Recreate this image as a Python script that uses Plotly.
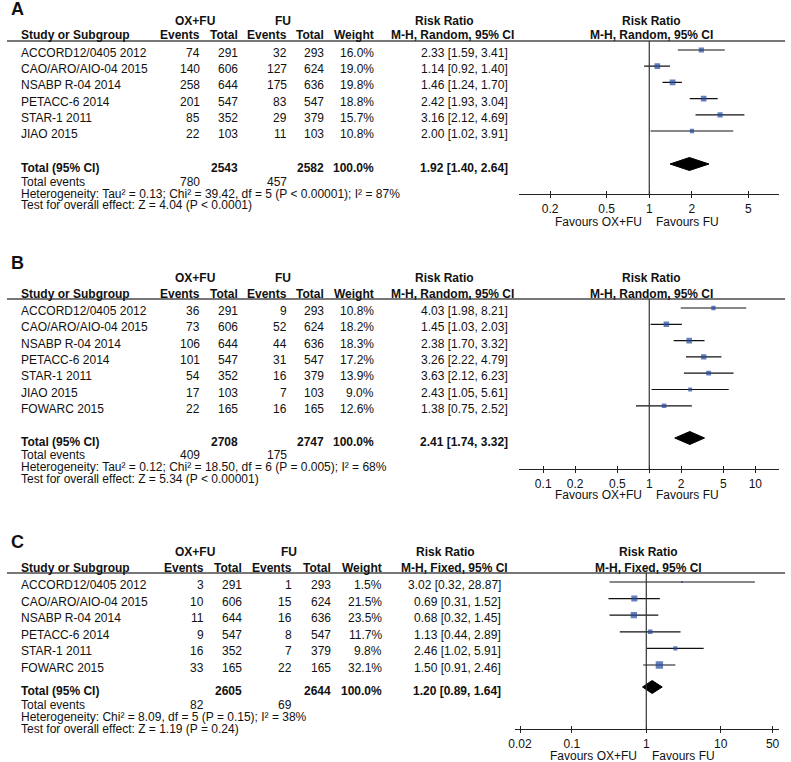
import math

import plotly.graph_objects as go

W, H = 791, 762
FONT = "Liberation Sans, Arial, Helvetica, sans-serif"
INK = "#111111"
RULE = "#4a4a4a"
BLUE = "#24489c"

# ---- Panel A (M-H, Random) ----
studies_a = ["ACCORD12/0405 2012", "CAO/ARO/AIO-04 2015", "NSABP R-04 2014",
             "PETACC-6 2014", "STAR-1 2011", "JIAO 2015"]
ox_events_a = [74, 140, 258, 201, 85, 22]
ox_total_a = [291, 606, 644, 547, 352, 103]
fu_events_a = [32, 127, 175, 83, 29, 11]
fu_total_a = [293, 624, 636, 547, 379, 103]
weight_a = [16.0, 19.0, 19.8, 18.8, 15.7, 10.8]
rr_a = [2.33, 1.14, 1.46, 2.42, 3.16, 2.00]
lo_a = [1.59, 0.92, 1.24, 1.93, 2.12, 1.02]
hi_a = [3.41, 1.40, 1.70, 3.04, 4.69, 3.91]
n_total_a = [2543, 2582]
events_total_a = [780, 457]
pooled_a = [1.92, 1.40, 2.64]
het_a = "Heterogeneity: Tau² = 0.13; Chi² = 39.42, df = 5 (P < 0.00001); I² = 87%"
test_a = "Test for overall effect: Z = 4.04 (P < 0.0001)"
ticks_a = [0.2, 0.5, 1, 2, 5]

# ---- Panel B (M-H, Random) ----
studies_b = ["ACCORD12/0405 2012", "CAO/ARO/AIO-04 2015", "NSABP R-04 2014",
             "PETACC-6 2014", "STAR-1 2011", "JIAO 2015", "FOWARC 2015"]
ox_events_b = [36, 73, 106, 101, 54, 17, 22]
ox_total_b = [291, 606, 644, 547, 352, 103, 165]
fu_events_b = [9, 52, 44, 31, 16, 7, 16]
fu_total_b = [293, 624, 636, 547, 379, 103, 165]
weight_b = [10.8, 18.2, 18.3, 17.2, 13.9, 9.0, 12.6]
rr_b = [4.03, 1.45, 2.38, 3.26, 3.63, 2.43, 1.38]
lo_b = [1.98, 1.03, 1.70, 2.22, 2.12, 1.05, 0.75]
hi_b = [8.21, 2.03, 3.32, 4.79, 6.23, 5.61, 2.52]
n_total_b = [2708, 2747]
events_total_b = [409, 175]
pooled_b = [2.41, 1.74, 3.32]
het_b = "Heterogeneity: Tau² = 0.12; Chi² = 18.50, df = 6 (P = 0.005); I² = 68%"
test_b = "Test for overall effect: Z = 5.34 (P < 0.00001)"
ticks_b = [0.1, 0.2, 0.5, 1, 2, 5, 10]

# ---- Panel C (M-H, Fixed) ----
studies_c = ["ACCORD12/0405 2012", "CAO/ARO/AIO-04 2015", "NSABP R-04 2014",
             "PETACC-6 2014", "STAR-1 2011", "FOWARC 2015"]
ox_events_c = [3, 10, 11, 9, 16, 33]
ox_total_c = [291, 606, 644, 547, 352, 165]
fu_events_c = [1, 15, 16, 8, 7, 22]
fu_total_c = [293, 624, 636, 547, 379, 165]
weight_c = [1.5, 21.5, 23.5, 11.7, 9.8, 32.1]
rr_c = [3.02, 0.69, 0.68, 1.13, 2.46, 1.50]
lo_c = [0.32, 0.31, 0.32, 0.44, 1.02, 0.91]
hi_c = [28.87, 1.52, 1.45, 2.89, 5.91, 2.46]
n_total_c = [2605, 2644]
events_total_c = [82, 69]
pooled_c = [1.20, 0.89, 1.64]
het_c = "Heterogeneity: Chi² = 8.09, df = 5 (P = 0.15); I² = 38%"
test_c = "Test for overall effect: Z = 1.19 (P = 0.24)"
ticks_c = [0.02, 0.1, 1, 10, 50]

PANELS = [
    dict(letter="A", method="Random", studies=studies_a, oe=ox_events_a, ot=ox_total_a,
         fe=fu_events_a, ft=fu_total_a, w=weight_a, rr=rr_a, lo=lo_a, hi=hi_a,
         nt=n_total_a, et=events_total_a, pooled=pooled_a, het=het_a, test=test_a, ticks=ticks_a),
    dict(letter="B", method="Random", studies=studies_b, oe=ox_events_b, ot=ox_total_b,
         fe=fu_events_b, ft=fu_total_b, w=weight_b, rr=rr_b, lo=lo_b, hi=hi_b,
         nt=n_total_b, et=events_total_b, pooled=pooled_b, het=het_b, test=test_b, ticks=ticks_b),
    dict(letter="C", method="Fixed", studies=studies_c, oe=ox_events_c, ot=ox_total_c,
         fe=fu_events_c, ft=fu_total_c, w=weight_c, rr=rr_c, lo=lo_c, hi=hi_c,
         nt=n_total_c, et=events_total_c, pooled=pooled_c, het=het_c, test=test_c, ticks=ticks_c),
]

# pixel geometry of each panel
GEOM = [
    dict(letter_y=9, group_y=21, head_y=35, rule_y=41, row0=53, pitch=16.2, total_y=168,
         events_y=182, het_y=193.5, test_y=205, axis_y=194, fav_y=222,
         cols=[197, 235, 285, 322, 372], rr_x=507, grp_x=[190, 278], rr_head=[441, 449],
         plot=[517, 779], one_x=648, decade=143, plot_head=650, fav_split=[643, 653]),
    dict(letter_y=263, group_y=278, head_y=294, rule_y=299, row0=311, pitch=16.3, total_y=442,
         events_y=455, het_y=467, test_y=479, axis_y=469, fav_y=495,
         cols=[197, 235, 285, 322, 372], rr_x=507, grp_x=[190, 278], rr_head=[441, 449],
         plot=[517, 779], one_x=648, decade=107, plot_head=650, fav_split=[643, 653]),
    dict(letter_y=542, group_y=552, head_y=568, rule_y=573, row0=585, pitch=16.6, total_y=691,
         events_y=705, het_y=717, test_y=729, axis_y=729, fav_y=756,
         cols=[201, 239, 290, 329, 380], rr_x=500, grp_x=[190, 285], rr_head=[442, 451],
         plot=[513, 779], one_x=645, decade=75, plot_head=647, fav_split=[638, 649]),
]

annotations = []
shapes = []


def px(x):
    return x / W


def py(y):
    return 1 - y / H


def text(x, y, s, anchor="left", bold=False, size=12):
    annotations.append(dict(
        x=px(x), y=py(y), xref="paper", yref="paper", showarrow=False,
        text=f"<b>{s}</b>" if bold else s, xanchor=anchor, yanchor="middle",
        font=dict(size=size, color=INK, family=FONT),
    ))


def rr_text(v, lo, hi):
    return f"{v:.2f} [{lo:.2f}, {hi:.2f}]"


fig = go.Figure()

for k, (p, g) in enumerate(zip(PANELS, GEOM)):
    n = k + 1
    xa = "x" if n == 1 else f"x{n}"
    ya = "y" if n == 1 else f"y{n}"
    over = f"x{n + 3}"
    cols = g["cols"]
    method = f"M-H, {p['method']}, 95% CI"

    # headers
    text(2, g["letter_y"], p["letter"], bold=True, size=18)
    text(g["grp_x"][0], g["group_y"], "OX+FU", anchor="center", bold=True)
    text(g["grp_x"][1], g["group_y"], "FU", anchor="center", bold=True)
    text(12, g["head_y"], "Study or Subgroup", bold=True)
    for cx, lab in zip(cols, ["Events", "Total", "Events", "Total", "Weight"]):
        text(cx, g["head_y"], lab, anchor="right", bold=True)
    text(g["rr_head"][0], g["group_y"], "Risk Ratio", anchor="center", bold=True)
    text(g["rr_head"][1], g["head_y"], method, anchor="center", bold=True)
    text(g["plot_head"], g["group_y"], "Risk Ratio", anchor="center", bold=True)
    text(g["plot_head"], g["head_y"], method, anchor="center", bold=True)
    shapes.append(dict(type="line", xref="paper", yref="paper", x0=0, x1=px(785),
                       y0=py(g["rule_y"]), y1=py(g["rule_y"]), line=dict(color=RULE, width=1.3)))

    # study rows
    row_y = [g["row0"] + g["pitch"] * i for i in range(len(p["studies"]))]
    for i, name in enumerate(p["studies"]):
        y = row_y[i]
        text(12, y, name)
        vals = [p["oe"][i], p["ot"][i], p["fe"][i], p["ft"][i], f"{p['w'][i]:.1f}%"]
        for cx, v in zip(cols, vals):
            text(cx, y, str(v), anchor="right")
        text(g["rr_x"], y, rr_text(p["rr"][i], p["lo"][i], p["hi"][i]), anchor="right")

    # totals
    text(12, g["total_y"], "Total (95% CI)", bold=True)
    text(cols[1], g["total_y"], str(p["nt"][0]), anchor="right", bold=True)
    text(cols[3], g["total_y"], str(p["nt"][1]), anchor="right", bold=True)
    text(cols[4], g["total_y"], "100.0%", anchor="right", bold=True)
    text(g["rr_x"], g["total_y"], rr_text(*p["pooled"]), anchor="right", bold=True)
    text(12, g["events_y"], "Total events")
    text(cols[0], g["events_y"], str(p["et"][0]), anchor="right")
    text(cols[2], g["events_y"], str(p["et"][1]), anchor="right")
    text(12, g["het_y"], p["het"])
    text(12, g["test_y"], p["test"])
    text(g["fav_split"][0], g["fav_y"], "Favours OX+FU", anchor="right")
    text(g["fav_split"][1], g["fav_y"], "Favours FU", anchor="left")

    # forest marks
    mark_y = [y - 3 for y in row_y]
    ci_x, ci_y = [], []
    for lo, hi, y in zip(p["lo"], p["hi"], mark_y):
        ci_x += [lo, hi, None]
        ci_y += [y, y, None]
    fig.add_trace(go.Scatter(x=ci_x, y=ci_y, mode="lines", xaxis=xa, yaxis=ya,
                             line=dict(color="#111", width=1.2), hoverinfo="skip"))
    fig.add_trace(go.Scatter(
        x=p["rr"], y=mark_y, mode="markers", xaxis=xa, yaxis=ya,
        marker=dict(symbol="square", color=BLUE, line=dict(width=0),
                    size=[max(2, 1.3 * math.sqrt(w)) for w in p["w"]]),
    ))
    est, lo, hi = p["pooled"]
    dy = g["total_y"] - 4
    hh = 6.5
    fig.add_trace(go.Scatter(x=[lo, est, hi, est, lo], y=[dy, dy - hh, dy, dy + hh, dy],
                             mode="lines", fill="toself", fillcolor="black", xaxis=xa, yaxis=ya,
                             line=dict(color="black", width=1)))
    # invisible trace so the overlay tick axis is drawn
    fig.add_trace(go.Scatter(x=[1], y=[dy], mode="markers", xaxis=over, yaxis=ya,
                             marker=dict(opacity=0), hoverinfo="skip"))

    x0 = (g["plot"][0] - g["one_x"]) / g["decade"]
    x1 = (g["plot"][1] - g["one_x"]) / g["decade"]
    tick_text = [str(t) for t in p["ticks"]]
    dom_x = [px(g["plot"][0]), px(g["plot"][1])]
    dom_y = [py(g["axis_y"]), py(g["rule_y"])]
    axis_key = "xaxis" if n == 1 else f"xaxis{n}"
    yaxis_key = "yaxis" if n == 1 else f"yaxis{n}"
    fig.update_layout(**{
        axis_key: dict(type="log", range=[x0, x1], domain=dom_x, anchor=ya,
                       showline=True, linecolor="#222", linewidth=1.3, ticks="outside",
                       ticklen=3, tickwidth=1.3, tickcolor="#222", tickvals=p["ticks"],
                       ticktext=tick_text, showgrid=False, zeroline=False,
                       tickfont=dict(size=12, color=INK, family=FONT)),
        f"xaxis{n + 3}": dict(type="log", range=[x0, x1], overlaying=xa, anchor=ya,
                              side="bottom", ticks="inside", ticklen=3, tickwidth=1.3,
                              tickcolor="#222", tickvals=p["ticks"], showticklabels=False,
                              showline=False, showgrid=False, zeroline=False),
        yaxis_key: dict(range=[g["axis_y"], g["rule_y"]], domain=dom_y, anchor=xa,
                        visible=False, showgrid=False, zeroline=False),
    })
    shapes.append(dict(type="line", xref=xa, yref=f"{ya} domain", x0=1, x1=1, y0=0, y1=1,
                       line=dict(color="#333", width=1.2)))

fig.update_layout(
    width=W, height=H,
    margin=dict(l=0, r=0, t=0, b=0),
    paper_bgcolor="white", plot_bgcolor="white",
    showlegend=False,
    font=dict(family=FONT, color=INK, size=12),
    annotations=annotations,
    shapes=shapes,
)

# drop the browser's default body margin so the figure sits at the page origin
fig.write_html("out.html", config={"displayModeBar": False},
               post_script="document.body.style.margin='0';"
                           "document.documentElement.style.overflow='hidden';")
